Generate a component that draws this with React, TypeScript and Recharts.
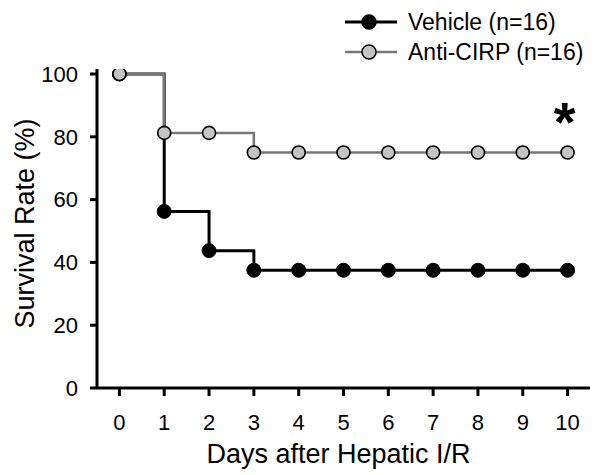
import { LineChart, Line, XAxis, YAxis, Legend, ReferenceDot } from 'recharts'

const days = [0, 1, 2, 3, 4, 5, 6, 7, 8, 9, 10]
const vehicle = [100, 56.25, 43.75, 37.5, 37.5, 37.5, 37.5, 37.5, 37.5, 37.5, 37.5]
const antiCirp = [100, 81.25, 81.25, 75, 75, 75, 75, 75, 75, 75, 75]
const yTicks = [0, 20, 40, 60, 80, 100]
const seriesNames = ['Vehicle (n=16)', 'Anti-CIRP (n=16)']

const data = days.map((d, i) => ({ day: d, vehicle: vehicle[i], antiCirp: antiCirp[i] }))

const FONT = "'Liberation Sans', Arial, Helvetica, sans-serif"

const legendStyle: Record<string, { stroke: string; fill: string; width: number }> = {
  'Vehicle (n=16)': { stroke: '#000', fill: '#000', width: 3 },
  'Anti-CIRP (n=16)': { stroke: '#777', fill: '#c4c4c4', width: 2.5 },
}

function renderLegend({ payload }: any) {
  const items = [...(payload || [])].sort(
    (a: any, b: any) => seriesNames.indexOf(a.value) - seriesNames.indexOf(b.value)
  )
  return (
    <svg width={260} height={70}>
      {items.map((p: any, i: number) => {
        const s = legendStyle[p.value]
        const y = 17 + i * 30
        return (
          <g key={p.value}>
            <line x1={5} x2={57} y1={y} y2={y} stroke={s.stroke} strokeWidth={s.width} />
            <circle cx={29} cy={y} r={7} fill={s.fill} stroke="#000" strokeWidth={1.5} />
            <text x={68} y={y + 8} fontSize={23} fontFamily={FONT} fill="#000">
              {p.value}
            </text>
          </g>
        )
      })}
    </svg>
  )
}

function YTitle({ viewBox }: any) {
  const cx = 25
  const cy = viewBox.y + viewBox.height / 2 - 5
  return (
    <text
      x={cx}
      y={cy}
      transform={`rotate(-90, ${cx}, ${cy})`}
      textAnchor="middle"
      dominantBaseline="central"
      fontSize={27}
      fontFamily={FONT}
      fill="#000"
    >
      Survival Rate (%)
    </text>
  )
}

function XTitle({ viewBox }: any) {
  return (
    <text
      x={viewBox.x + viewBox.width / 2 - 5}
      y={463}
      textAnchor="middle"
      fontSize={27}
      fontFamily={FONT}
      fill="#000"
    >
      Days after Hepatic I/R
    </text>
  )
}

function Star({ viewBox }: any) {
  return (
    <text
      x={viewBox.x - 3}
      y={viewBox.y - 12}
      textAnchor="middle"
      fontSize={56}
      fontWeight="bold"
      fontFamily={FONT}
      fill="#000"
    >
      *
    </text>
  )
}

export default function App() {
  const last = days.length - 1
  return (
    <div style={{ position: 'absolute', left: 0, top: 0 }}>
      <LineChart width={600} height={475} data={data} margin={{ top: 69, right: 10, bottom: 0, left: 0 }}>
        <XAxis
          dataKey="day"
          type="number"
          domain={[-0.5, 10.5]}
          ticks={days}
          stroke="#000"
          strokeWidth={3}
          tickSize={8}
          tickMargin={18}
          height={87}
          tick={{ fontSize: 22, fontFamily: FONT, fill: '#000' }}
          label={<XTitle />}
        />
        <YAxis
          type="number"
          domain={[0, 101.6]}
          ticks={yTicks}
          stroke="#000"
          strokeWidth={3}
          tickSize={7}
          tickMargin={12}
          width={97}
          allowDataOverflow
          tick={{ fontSize: 22, fontFamily: FONT, fill: '#000' }}
          label={<YTitle />}
        />
        <Legend
          layout="vertical"
          align="center"
          verticalAlign="middle"
          wrapperStyle={{ top: 5, left: 340, width: 260, height: 70 }}
          content={renderLegend}
        />
        <Line
          name="Vehicle (n=16)"
          dataKey="vehicle"
          type="stepAfter"
          stroke="#000"
          strokeWidth={3}
          dot={{ r: 7, fill: '#000', stroke: '#000', strokeWidth: 1 }}
          isAnimationActive={false}
        />
        <Line
          name="Anti-CIRP (n=16)"
          dataKey="antiCirp"
          type="stepAfter"
          stroke="#777"
          strokeWidth={2.5}
          dot={{ r: 6.5, fill: '#c4c4c4', stroke: '#000', strokeWidth: 1.6 }}
          isAnimationActive={false}
        />
        <ReferenceDot x={days[last]} y={antiCirp[last]} r={0} stroke="none" label={<Star />} />
      </LineChart>
    </div>
  )
}
